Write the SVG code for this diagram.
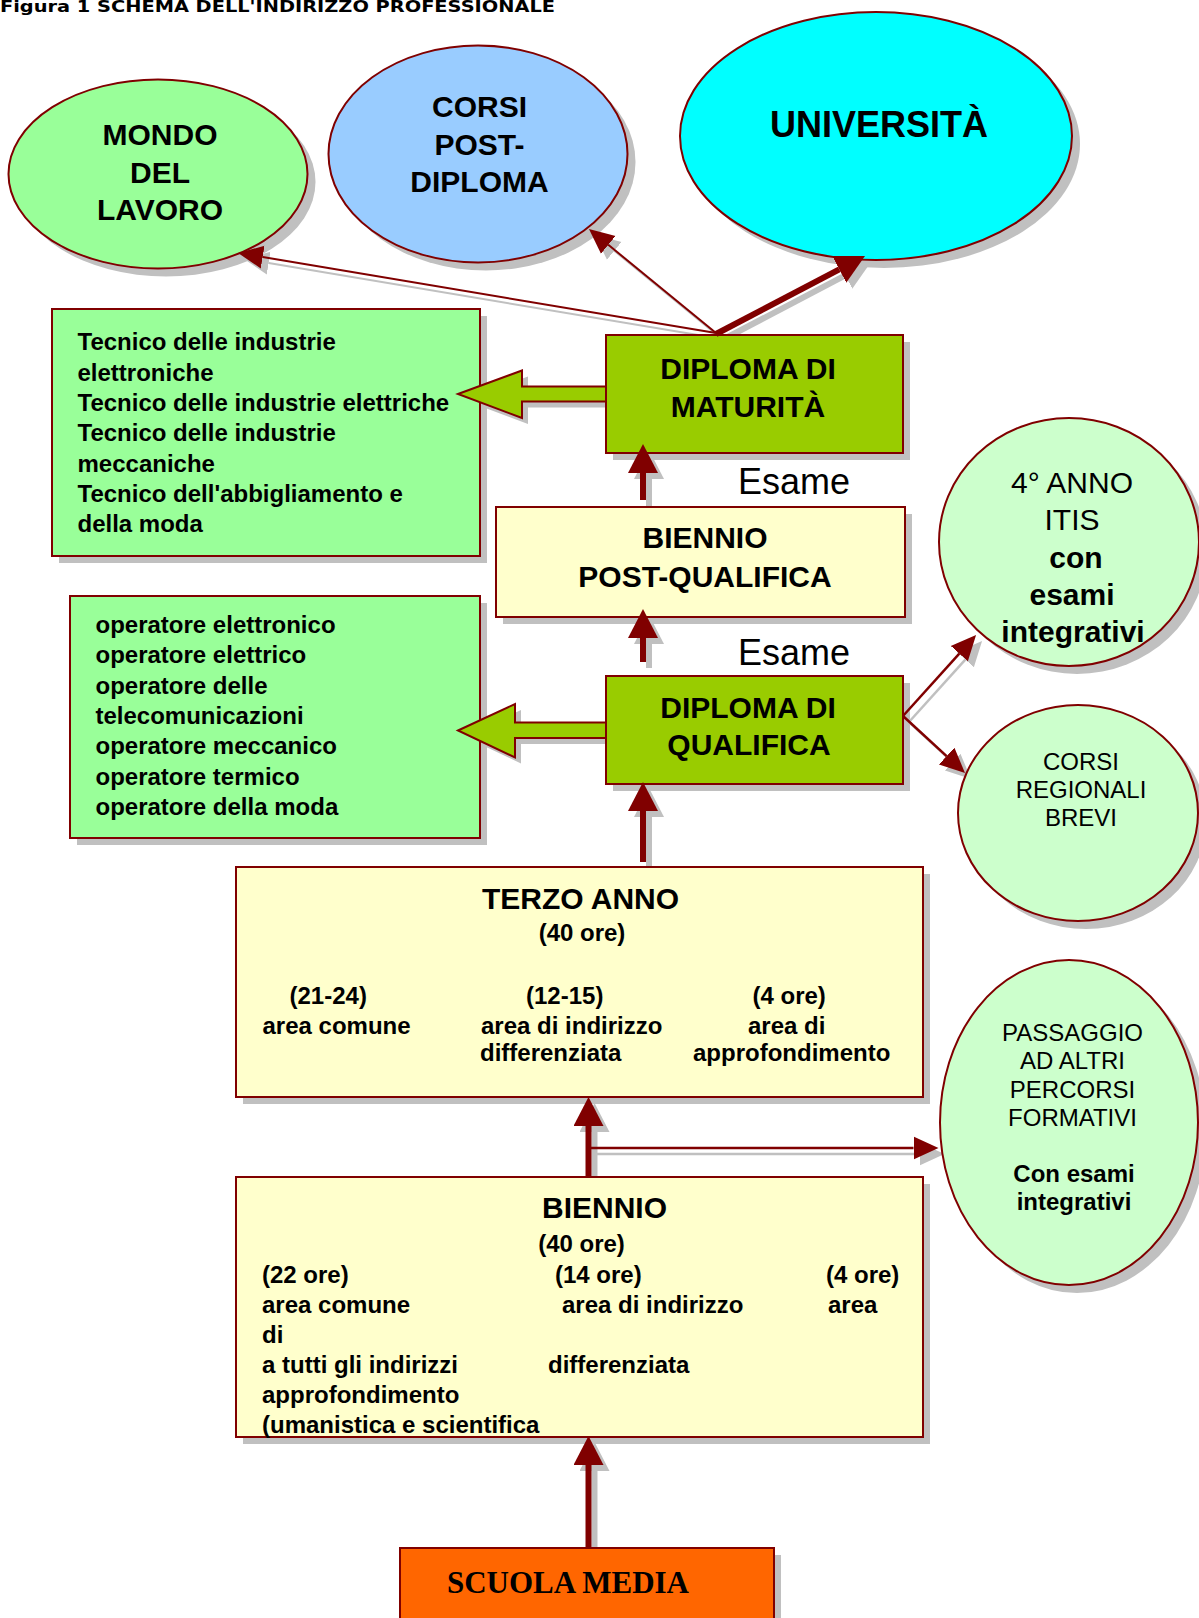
<svg xmlns="http://www.w3.org/2000/svg" width="1199" height="1618" viewBox="0 0 1199 1618">
<style>
.st{stroke:#800000;stroke-width:2}
.sh{fill:#C0C0C0;stroke:none}
.t{font-family:"Liberation Sans",Arial,sans-serif;fill:#000}
.b{font-weight:bold}
.m{text-anchor:middle}
.h30{font-size:30px;font-weight:bold}
.s24{font-size:24px}
.cn{fill:none;stroke:#800000}
.cs{fill:none;stroke:#C0C0C0}
</style>
<defs>
<marker id="ah" viewBox="0 -15 30 30" refX="0" refY="0" markerWidth="30" markerHeight="30" markerUnits="userSpaceOnUse" orient="auto"><path d="M0,-15 L29,0 L0,15 z" fill="#800000"/></marker>
<marker id="ahs" viewBox="0 -15 30 30" refX="0" refY="0" markerWidth="30" markerHeight="30" markerUnits="userSpaceOnUse" orient="auto"><path d="M0,-15 L29,0 L0,15 z" fill="#C0C0C0"/></marker>
<marker id="at" viewBox="0 -12 26 24" refX="0" refY="0" markerWidth="26" markerHeight="24" markerUnits="userSpaceOnUse" orient="auto"><path d="M0,-11.5 L25,0 L0,11.5 z" fill="#800000"/></marker>
<marker id="ats" viewBox="0 -12 26 24" refX="0" refY="0" markerWidth="26" markerHeight="24" markerUnits="userSpaceOnUse" orient="auto"><path d="M0,-11.5 L25,0 L0,11.5 z" fill="#C0C0C0"/></marker>
</defs>
<rect x="0" y="0" width="1199" height="1618" fill="#ffffff"/>

<text x="0" y="12" font-family="'DejaVu Sans',sans-serif" font-weight="bold" font-size="15" textLength="555" lengthAdjust="spacingAndGlyphs">Figura 1 SCHEMA DELL'INDIRIZZO PROFESSIONALE</text>

<g id="connector-shadows" transform="translate(6,6)">
  <line class="cs" stroke-width="2" x1="716" y1="333" x2="262.7" y2="257.1" marker-end="url(#ats)"/>
  <line class="cs" stroke-width="2" x1="716" y1="333" x2="608.3" y2="244.8" marker-end="url(#ats)"/>
  <line class="cs" stroke-width="6" x1="716" y1="334" x2="839.3" y2="269.4" marker-end="url(#ahs)"/>
  <line class="cs" stroke-width="6" x1="643" y1="500" x2="643" y2="473" marker-end="url(#ahs)"/>
  <line class="cs" stroke-width="6" x1="643" y1="662" x2="643" y2="638" marker-end="url(#ahs)"/>
  <line class="cs" stroke-width="6" x1="643" y1="862" x2="643" y2="811" marker-end="url(#ahs)"/>
  <line class="cs" stroke-width="6" x1="588.5" y1="1177" x2="588.5" y2="1126" marker-end="url(#ahs)"/>
  <line class="cs" stroke-width="6" x1="588.5" y1="1548" x2="588.5" y2="1465" marker-end="url(#ahs)"/>
  <line class="cs" stroke-width="2.5" x1="589" y1="1148" x2="913.5" y2="1148" marker-end="url(#ats)"/>
  <line class="cs" stroke-width="2.5" x1="903" y1="716" x2="959.3" y2="653.6" marker-end="url(#ats)"/>
  <line class="cs" stroke-width="2.5" x1="903" y1="716" x2="946.6" y2="756.1" marker-end="url(#ats)"/>
  <polygon class="sh" points="458,394 522,370.5 522,386.5 606,386.5 606,401.5 522,401.5 522,418"/>
  <polygon class="sh" points="458,730.5 515,704 515,722.5 606,722.5 606,738 515,738 515,757.5"/>
</g>

<g id="mondo-lavoro">
  <ellipse class="sh" cx="166" cy="182" rx="149.5" ry="94.5"/>
  <ellipse class="st" fill="#99FF99" cx="158" cy="174" rx="149.5" ry="94.5"/>
  <text class="t h30 m" x="160" y="145">MONDO</text>
  <text class="t h30 m" x="160" y="183">DEL</text>
  <text class="t h30 m" x="160" y="220">LAVORO</text>
</g>

<g id="corsi-post-diploma">
  <ellipse class="sh" cx="486" cy="162" rx="149.5" ry="108.5"/>
  <ellipse class="st" fill="#99CCFF" cx="478" cy="154" rx="149.5" ry="108.5"/>
  <text class="t h30 m" x="479.5" y="117">CORSI</text>
  <text class="t h30 m" x="479.5" y="155">POST-</text>
  <text class="t h30 m" x="479.5" y="192">DIPLOMA</text>
</g>

<g id="universita">
  <ellipse class="sh" cx="884" cy="144" rx="196" ry="124"/>
  <ellipse class="st" fill="#00FFFF" cx="876" cy="136" rx="196" ry="124"/>
  <text class="t b m" font-size="36" x="879" y="137">UNIVERSITÀ</text>
</g>

<g id="tecnici">
  <rect class="sh" x="59" y="316" width="428" height="247"/>
  <rect class="st" fill="#99FF99" x="52" y="309" width="428" height="247"/>
  <g class="t b s24">
    <text x="77.5" y="350">Tecnico delle industrie</text>
    <text x="77.5" y="380.5">elettroniche</text>
    <text x="77.5" y="411">Tecnico delle industrie elettriche</text>
    <text x="77.5" y="441">Tecnico delle industrie</text>
    <text x="77.5" y="471.5">meccaniche</text>
    <text x="77.5" y="502">Tecnico dell'abbigliamento e</text>
    <text x="77.5" y="532">della moda</text>
  </g>
</g>

<g id="diploma-maturita">
  <rect class="sh" x="613" y="342" width="297" height="118"/>
  <rect class="st" fill="#99CC00" x="606" y="335" width="297" height="118"/>
  <text class="t h30 m" x="748" y="379">DIPLOMA DI</text>
  <text class="t h30 m" x="748" y="417">MATURITÀ</text>
</g>

<text id="esame-1" class="t" font-size="36" x="738" y="494">Esame</text>

<g id="biennio-post-qualifica">
  <rect class="sh" x="503" y="514" width="409" height="110"/>
  <rect class="st" fill="#FFFFCC" x="496" y="507" width="409" height="110"/>
  <text class="t h30 m" x="705" y="548">BIENNIO</text>
  <text class="t h30 m" x="705" y="587">POST-QUALIFICA</text>
</g>

<g id="quarto-anno-itis">
  <ellipse class="sh" cx="1077" cy="550" rx="130" ry="124"/>
  <ellipse class="st" fill="#CCFFCC" cx="1069" cy="542" rx="130" ry="124"/>
  <text class="t m" font-size="30" x="1072" y="493">4° ANNO</text>
  <text class="t m" font-size="30" x="1072" y="530">ITIS</text>
  <text class="t h30 m" x="1076" y="568">con</text>
  <text class="t h30 m" x="1072" y="605">esami</text>
  <text class="t h30 m" x="1073" y="642">integrativi</text>
</g>

<g id="operatori">
  <rect class="sh" x="77" y="603" width="410" height="242"/>
  <rect class="st" fill="#99FF99" x="70" y="596" width="410" height="242"/>
  <g class="t b s24">
    <text x="95.5" y="633">operatore elettronico</text>
    <text x="95.5" y="663.3">operatore elettrico</text>
    <text x="95.5" y="693.6">operatore delle</text>
    <text x="95.5" y="724">telecomunicazioni</text>
    <text x="95.5" y="754.2">operatore meccanico</text>
    <text x="95.5" y="784.5">operatore termico</text>
    <text x="95.5" y="815">operatore della moda</text>
  </g>
</g>

<text id="esame-2" class="t" font-size="36" x="738" y="665">Esame</text>

<g id="diploma-qualifica">
  <rect class="sh" x="613" y="683" width="297" height="108"/>
  <rect class="st" fill="#99CC00" x="606" y="676" width="297" height="108"/>
  <text class="t h30 m" x="748" y="718">DIPLOMA DI</text>
  <text class="t h30 m" x="749" y="755">QUALIFICA</text>
</g>

<g id="corsi-regionali">
  <ellipse class="sh" cx="1086" cy="821" rx="120" ry="108"/>
  <ellipse class="st" fill="#CCFFCC" cx="1078" cy="813" rx="120" ry="108"/>
  <text class="t s24 m" x="1081" y="770">CORSI</text>
  <text class="t s24 m" x="1081" y="798">REGIONALI</text>
  <text class="t s24 m" x="1081" y="826">BREVI</text>
</g>

<g id="terzo-anno">
  <rect class="sh" x="243" y="874" width="687" height="230"/>
  <rect class="st" fill="#FFFFCC" x="236" y="867" width="687" height="230"/>
  <text class="t h30 m" x="580.5" y="909">TERZO ANNO</text>
  <g class="t b s24">
    <text class="m" x="582" y="941">(40 ore)</text>
    <text x="289.5" y="1004">(21-24)</text>
    <text x="262.5" y="1034">area comune</text>
    <text x="526" y="1004">(12-15)</text>
    <text x="481" y="1034">area di indirizzo</text>
    <text x="480" y="1061">differenziata</text>
    <text x="752.5" y="1004">(4 ore)</text>
    <text x="748" y="1034">area di</text>
    <text x="693" y="1061">approfondimento</text>
  </g>
</g>

<g id="passaggio">
  <ellipse class="sh" cx="1077" cy="1130.5" rx="129" ry="162.5"/>
  <ellipse class="st" fill="#CCFFCC" cx="1069" cy="1122.5" rx="129" ry="162.5"/>
  <g class="t s24 m">
    <text x="1072.5" y="1040.7">PASSAGGIO</text>
    <text x="1072.5" y="1069.3">AD ALTRI</text>
    <text x="1072.5" y="1097.7">PERCORSI</text>
    <text x="1072.5" y="1125.7">FORMATIVI</text>
    <text class="b" x="1074" y="1181.7">Con esami</text>
    <text class="b" x="1074" y="1210">integrativi</text>
  </g>
</g>

<g id="biennio">
  <rect class="sh" x="243" y="1184" width="687" height="260"/>
  <rect class="st" fill="#FFFFCC" x="236" y="1177" width="687" height="260"/>
  <text class="t h30 m" x="604.5" y="1218.3">BIENNIO</text>
  <g class="t b s24">
    <text class="m" x="581.5" y="1251.7">(40 ore)</text>
    <text x="262" y="1282.7">(22 ore)</text>
    <text x="555" y="1282.7">(14 ore)</text>
    <text x="826" y="1282.7">(4 ore)</text>
    <text x="262" y="1312.7">area comune</text>
    <text x="562" y="1312.7">area di indirizzo</text>
    <text x="828" y="1312.7">area</text>
    <text x="262" y="1342.7">di</text>
    <text x="262" y="1373.3">a tutti gli indirizzi</text>
    <text x="548" y="1373.3">differenziata</text>
    <text x="262" y="1403.3">approfondimento</text>
    <text x="262" y="1433.3">(umanistica e scientifica</text>
  </g>
</g>

<g id="scuola-media">
  <rect class="sh" x="407" y="1555" width="374" height="80"/>
  <rect class="st" fill="#FF6600" x="400" y="1548" width="374" height="80"/>
  <text x="568" y="1593.3" text-anchor="middle" font-family="'Liberation Serif','Times New Roman',serif" font-weight="bold" font-size="31">SCUOLA MEDIA</text>
</g>

<g id="connectors">
  <line class="cn" stroke-width="2" x1="716" y1="333" x2="262.7" y2="257.1" marker-end="url(#at)"/>
  <line class="cn" stroke-width="2" x1="716" y1="333" x2="608.3" y2="244.8" marker-end="url(#at)"/>
  <line class="cn" stroke-width="6" x1="716" y1="334" x2="839.3" y2="269.4" marker-end="url(#ah)"/>
  <polygon class="st" fill="#99CC00" points="458,394 522,370.5 522,386.5 606,386.5 606,401.5 522,401.5 522,418"/>
  <polygon class="st" fill="#99CC00" points="458,730.5 515,704 515,722.5 606,722.5 606,738 515,738 515,757.5"/>
  <line class="cn" stroke-width="6" x1="643" y1="500" x2="643" y2="473" marker-end="url(#ah)"/>
  <line class="cn" stroke-width="6" x1="643" y1="662" x2="643" y2="638" marker-end="url(#ah)"/>
  <line class="cn" stroke-width="6" x1="643" y1="862" x2="643" y2="811" marker-end="url(#ah)"/>
  <line class="cn" stroke-width="2.5" x1="903" y1="716" x2="959.3" y2="653.6" marker-end="url(#at)"/>
  <line class="cn" stroke-width="2.5" x1="903" y1="716" x2="946.6" y2="756.1" marker-end="url(#at)"/>
  <line class="cn" stroke-width="6" x1="588.5" y1="1177" x2="588.5" y2="1126" marker-end="url(#ah)"/>
  <line class="cn" stroke-width="2.5" x1="589" y1="1148" x2="913.5" y2="1148" marker-end="url(#at)"/>
  <line class="cn" stroke-width="6" x1="588.5" y1="1548" x2="588.5" y2="1465" marker-end="url(#ah)"/>
</g>
</svg>
